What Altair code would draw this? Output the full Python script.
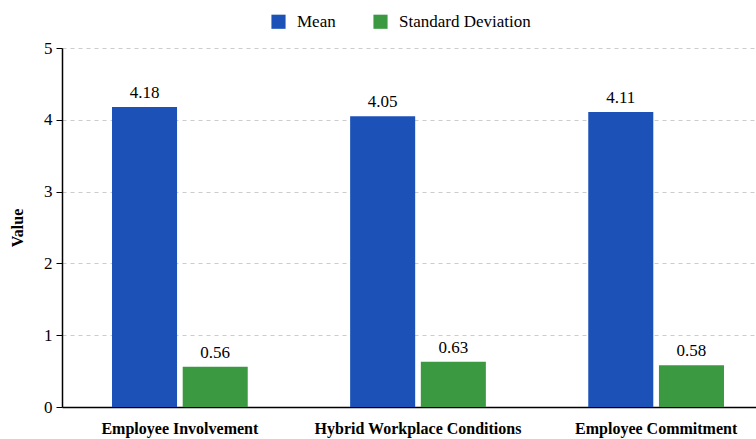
import altair as alt
import pandas as pd

categories = ["Employee Involvement", "Hybrid Workplace Conditions", "Employee Commitment"]
series = ["Mean", "Standard Deviation"]
means = [4.18, 4.05, 4.11]
sds = [0.56, 0.63, 0.58]
colors = ["#1c52b8", "#3b9a41"]

rows = []
for c, m, s in zip(categories, means, sds):
    rows.append({"Category": c, "Series": "Mean", "Value": m})
    rows.append({"Category": c, "Series": "Standard Deviation", "Value": s})
df = pd.DataFrame(rows)

FONT = "Liberation Serif"

x = alt.X("Category:N", sort=categories, title=None,
          scale=alt.Scale(range=[0, 712], paddingInner=0.43, paddingOuter=0.21),
          axis=alt.Axis(labelAngle=0, labelFont=FONT, labelFontSize=16, labelFontWeight="bold",
                        labelColor="black", ticks=False, domainColor="black", domainWidth=1.5,
                        labelPadding=13, labelLimit=0))
xo = alt.XOffset("Series:N", sort=series, scale=alt.Scale(paddingInner=0.08))
y = alt.Y("Value:Q", title="Value",
          scale=alt.Scale(domain=[0, 5], nice=False),
          axis=alt.Axis(values=[0, 1, 2, 3, 4, 5], format="d", labelFont=FONT, labelFontSize=17,
                        labelColor="black", titleFont=FONT, titleFontSize=16, titleFontWeight="bold",
                        titleColor="black", domainColor="black", domainWidth=1.5, tickColor="black",
                        tickSize=6, gridDash=[4, 4], gridColor="#cccccc", labelPadding=4,
                        titlePadding=18))

color = alt.Color("Series:N", sort=series,
                  scale=alt.Scale(domain=series, range=colors),
                  legend=alt.Legend(title=None, orient="none", direction="horizontal",
                                    legendX=208, legendY=-35, symbolType="square", symbolSize=200,
                                    symbolStrokeWidth=0, symbolOpacity=1,
                                    labelFont=FONT, labelFontSize=17, labelColor="black",
                                    columnPadding=36, labelOffset=10, padding=0))

bars = alt.Chart(df).mark_bar(opacity=1).encode(x=x, xOffset=xo, y=y, color=color)
labels = alt.Chart(df).mark_text(baseline="bottom", dy=-5, font=FONT, fontSize=17, color="black").encode(
    x=alt.X("Category:N", sort=categories),
    xOffset=alt.XOffset("Series:N", sort=series),
    y=alt.Y("Value:Q"),
    text=alt.Text("Value:Q", format=".2f"),
)

chart = (bars + labels).properties(
    width=694, height=359,
    autosize=alt.AutoSizeParams(type="none"),
    padding={"left": 62, "top": 48, "right": 0, "bottom": 32},
).configure_view(stroke=None).configure_axisX(grid=False)

chart.save("out.html", embed_options={"renderer": "svg", "actions": False})
